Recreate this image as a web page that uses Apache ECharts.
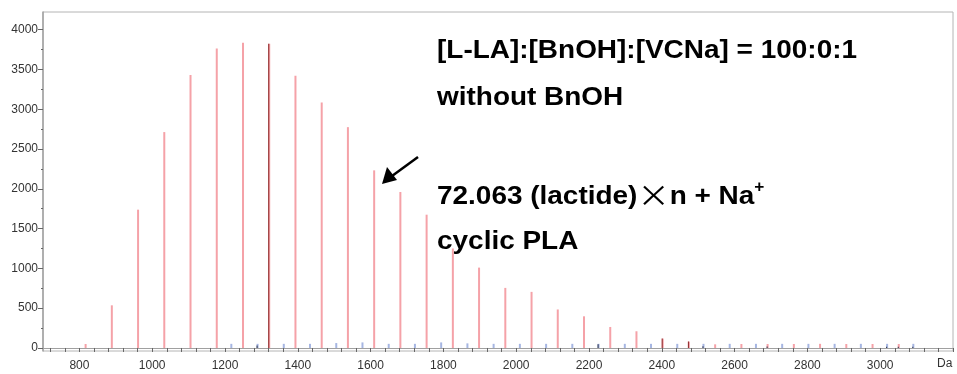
<!DOCTYPE html>
<html>
<head>
<meta charset="utf-8">
<script src="https://cdn.jsdelivr.net/npm/echarts@6/dist/echarts.min.js"></script>
<style>
  html, body { margin: 0; padding: 0; background: #fff; }
  #chart { width: 957px; height: 374px; }
</style>
</head>
<body>
<div id="chart"></div>
<script>
// cyclic PLA peaks (pink), m/z and intensity
var cyclicMz = [815.7, 887.7, 959.8, 1031.8, 1103.9, 1176.0, 1248.1, 1320.1, 1392.2, 1464.3,
	1536.3, 1608.4, 1680.4, 1752.5, 1824.6, 1896.6, 1968.7, 2040.8, 2112.8, 2184.9,
	2257.0, 2329.0, 2401.1, 2473.1, 2545.2, 2617.3, 2689.3, 2761.4, 2833.4, 2905.5,
	2977.6, 3049.6];
var cyclicInt = [50, 536, 1738, 2713, 3429, 3764, 3836, 3823, 3421, 3085,
	2775, 2232, 1960, 1675, 1250, 1010, 755, 705, 484, 398,
	264, 210, 118, 80, 46, 50, 50, 50, 52, 50,
	50, 50];
// highlighted peaks (dark red)
var markMz = [1320.1, 2401.1, 2473.1];
var markInt = [3823, 118, 80];
// second series (light blue)
var linearMz = [1216.0, 1288.1, 1360.1, 1432.2, 1504.3, 1576.3, 1648.4, 1720.4, 1792.5, 1864.6,
	1936.6, 2008.7, 2080.8, 2152.8, 2224.9, 2297.0, 2369.0, 2441.1, 2513.1, 2585.2,
	2657.3, 2729.3, 2801.4, 2873.4, 2945.5, 3017.6, 3089.6];
var linearInt = [52, 52, 52, 52, 62, 70, 52, 52, 70, 58,
	52, 52, 52, 52, 52, 52, 52, 52, 52, 52,
	52, 52, 52, 52, 52, 52, 52];
// small dark peaks
var darkMz = [1288.1, 2224.9, 2513.1, 2689.3, 3017.6, 3049.6, 3089.6];
var darkInt = [30, 48, 22, 20, 15, 15, 15];

// axis labels
var xLabels = [800, 1000, 1200, 1400, 1600, 1800, 2000, 2200, 2400, 2600, 2800, 3000];
var yLabels = [0, 500, 1000, 1500, 2000, 2500, 3000, 3500, 4000];
var yMinor = [250, 750, 1250, 1750, 2250, 2750, 3250, 3750];

var xTicks = [];
for (var t = 720; t <= 3200; t += 40) xTicks.push(t);

function pairs(xs, ys) {
	return xs.map(function(x, i) { return [x, ys[i]]; });
}

function peaks(name, xs, ys, color, width, z) {
	return {
		name: name,
		type: 'bar',
		data: pairs(xs, ys),
		barWidth: width,
		barGap: '-100%',
		itemStyle: { color: color },
		silent: true,
		z: z
	};
}

function plain(v) {
	return String(v);
}

var chart = echarts.init(document.getElementById('chart'));
var axisGray = '#a0a0a0';
var wide = 1.075; // annotation text is a bit wider than Arial

chart.setOption({
	backgroundColor: '#fff',
	animation: false,
	grid: {
		left: 43, right: 4, top: 12, bottom: 23,
		show: true, borderColor: '#b4b4b4', borderWidth: 1
	},
	xAxis: {
		type: 'value',
		min: 700,
		max: 3200,
		splitLine: { show: false },
		axisLine: { lineStyle: { color: axisGray, width: 1 } },
		axisTick: { customValues: xTicks, length: 4, lineStyle: { color: '#666' } },
		axisLabel: {
			customValues: xLabels,
			formatter: plain,
			color: '#333', fontSize: 12, fontFamily: 'Arial', margin: 9
		}
	},
	yAxis: [{
		type: 'value',
		min: -38,
		max: 4222,
		splitLine: { show: false },
		axisLine: { show: true, lineStyle: { color: axisGray, width: 1.5 } },
		axisTick: { show: true, customValues: yLabels, length: 5, lineStyle: { color: '#666' } },
		axisLabel: {
			customValues: yLabels,
			formatter: plain,
			color: '#333', fontSize: 12, fontFamily: 'Arial', margin: 5
		}
	}, {
		type: 'value',
		position: 'left',
		min: -38,
		max: 4222,
		splitLine: { show: false },
		axisLine: { show: false },
		axisTick: { show: true, customValues: yMinor, length: 2, lineStyle: { color: '#666' } },
		axisLabel: { show: false }
	}],
	series: [
		peaks('cyclic', cyclicMz, cyclicInt, '#f5a2a8', 2, 2),
		peaks('mark', markMz, markInt, '#8c2b2b', 1, 3),
		peaks('linear', linearMz, linearInt, '#a6b6e2', 2, 2),
		peaks('dark', darkMz, darkInt, '#2b3148', 1, 4)
	],
	graphic: [
		{
			type: 'text', x: 437, y: 38, scaleX: wide,
			style: { text: '[L-LA]:[BnOH]:[VCNa] = 100:0:1', fill: '#000',
				font: 'bold 26px Arial' }
		},
		{
			type: 'text', x: 437, y: 85, scaleX: wide,
			style: { text: 'without BnOH', fill: '#000', font: 'bold 26px Arial' }
		},
		{
			type: 'text', x: 437, y: 180, scaleX: wide,
			style: {
				text: '{b|72.063 (lactide)}{x|×}{b|n + Na}{s|+}',
				rich: {
					b: { font: 'bold 26px Arial', fill: '#000', verticalAlign: 'bottom' },
					x: { font: '30px "Noto Sans CJK JP"', fill: '#000', verticalAlign: 'bottom' },
					s: { font: 'bold 16px Arial', fill: '#000', verticalAlign: 'top' }
				}
			}
		},
		{
			type: 'text', x: 437, y: 229, scaleX: wide,
			style: { text: 'cyclic PLA', fill: '#000', font: 'bold 26px Arial' }
		},
		{
			type: 'line',
			shape: { x1: 418, y1: 157, x2: 392, y2: 176 },
			style: { stroke: '#000', lineWidth: 2.5 }
		},
		{
			type: 'polygon',
			shape: { points: [[382, 184], [387, 167], [397, 180]] },
			style: { fill: '#000' }
		},
		{
			type: 'text', left: 937, top: 358,
			style: { text: 'Da', fill: '#333', font: '12px Arial' }
		}
	]
});
</script>
</body>
</html>
